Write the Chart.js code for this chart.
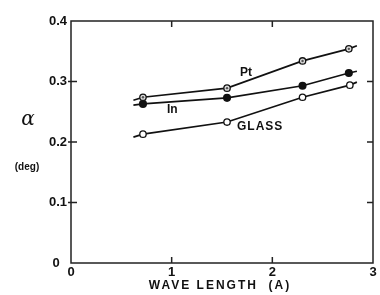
<!DOCTYPE html>
<html>
<head>
<meta charset="utf-8">
<script src="https://cdn.jsdelivr.net/npm/chart.js@4/dist/chart.umd.min.js"></script>
<style>
  html, body { margin: 0; padding: 0; background: #fff; }
  #wrap { width: 380px; height: 295px; }
</style>
</head>
<body>
<div id="wrap"><canvas id="chart"></canvas></div>
<script>
// wave length (A); first and last entries are the line ends (no marker)
const ptX    = [0.62, 0.715, 1.55, 2.30, 2.76, 2.84];
const ptY    = [0.269, 0.274, 0.289, 0.334, 0.354, 0.359];
const inX    = [0.62, 0.715, 1.55, 2.30, 2.76, 2.84];
const inY    = [0.261, 0.263, 0.273, 0.293, 0.314, 0.317];
const glassX = [0.62, 0.715, 1.55, 2.30, 2.77, 2.84];
const glassY = [0.208, 0.213, 0.233, 0.274, 0.294, 0.299];
const xTicks = [0, 1, 2, 3];
const yTicks = [0, 0.1, 0.2, 0.3, 0.4];

const toPoints = (xs, ys) => xs.map((x, i) => ({ x: x, y: ys[i] }));
const radii = n => Array.from({ length: n }, (_, i) => (i === 0 || i === n - 1) ? 0 : 3.2);

const fontBold = 'bold 12px "Liberation Sans", Arial, sans-serif';

// frame, inward ticks and text labels
const decor = {
    id: 'decor',
    afterDraw(chart) {
        const ctx = chart.ctx;
        const a = chart.chartArea;
        const xs = chart.scales.x, ys = chart.scales.y;
        ctx.save();
        ctx.strokeStyle = '#222';
        ctx.lineWidth = 1.5;
        ctx.strokeRect(a.left, a.top, a.right - a.left, a.bottom - a.top);
        ctx.beginPath();
        // x ticks bottom and top
        [1, 2].forEach(v => {
            const px = xs.getPixelForValue(v);
            ctx.moveTo(px, a.bottom); ctx.lineTo(px, a.bottom - 6);
            ctx.moveTo(px, a.top); ctx.lineTo(px, a.top + 6);
        });
        // y ticks left and right
        [0.1, 0.2, 0.3].forEach(v => {
            const py = ys.getPixelForValue(v);
            ctx.moveTo(a.left - 3, py); ctx.lineTo(a.left + 6, py);
            ctx.moveTo(a.right, py); ctx.lineTo(a.right - 6, py);
        });
        ctx.stroke();

        // centre dots of the Pt markers
        const meta = chart.getDatasetMeta(0);
        ctx.fillStyle = '#555';
        meta.data.forEach((p, i) => {
            if (i === 0 || i === meta.data.length - 1) return;
            ctx.beginPath();
            ctx.arc(p.x, p.y, 1.2, 0, Math.PI * 2);
            ctx.fill();
        });

        ctx.fillStyle = '#111';
        ctx.font = fontBold;
        ctx.textAlign = 'left';
        ctx.textBaseline = 'middle';
        ctx.fillText('Pt', 240, 73);
        ctx.fillText('In', 167, 110);
        ctx.letterSpacing = '1px';
        ctx.fillText('GLASS', 237, 127);
        ctx.letterSpacing = '2px';
        ctx.textAlign = 'center';
        ctx.fillText('WAVE LENGTH  (A)', 220, 286);
        ctx.letterSpacing = '0px';
        ctx.font = 'bold 10px "Liberation Sans", Arial, sans-serif';
        ctx.fillText('(deg)', 27, 167);
        ctx.font = 'italic 20px "DejaVu Serif", serif';
        ctx.fillText('\u03b1', 28, 120);
        ctx.restore();
    }
};

new Chart(document.getElementById('chart'), {
    type: 'line',
    data: {
        datasets: [
            {
                label: 'Pt',
                data: toPoints(ptX, ptY),
                borderColor: '#111',
                backgroundColor: '#ddd',
                pointBorderColor: '#111',
                pointBorderWidth: 1.3,
                pointRadius: radii(ptX.length),
                borderWidth: 1.7
            },
            {
                label: 'In',
                data: toPoints(inX, inY),
                borderColor: '#111',
                backgroundColor: '#111',
                pointBorderColor: '#111',
                pointRadius: radii(inX.length),
                borderWidth: 1.7
            },
            {
                label: 'GLASS',
                data: toPoints(glassX, glassY),
                borderColor: '#111',
                backgroundColor: '#fff',
                pointBorderColor: '#111',
                pointBorderWidth: 1.3,
                pointRadius: radii(glassX.length),
                borderWidth: 1.7
            }
        ]
    },
    options: {
        responsive: true,
        maintainAspectRatio: false,
        animation: false,
        layout: { padding: { left: 0, right: 7, top: 21, bottom: 0 } },
        plugins: { legend: { display: false }, tooltip: { enabled: false } },
        scales: {
            x: {
                type: 'linear',
                min: 0, max: 3,
                afterBuildTicks: s => { s.ticks = xTicks.map(v => ({ value: v })); },
                afterFit: s => { s.height = 32; },
                grid: { display: false, drawTicks: false },
                border: { display: false },
                ticks: {
                    color: '#111',
                    padding: 2,
                    font: { family: '"Liberation Sans", Arial, sans-serif', size: 13, weight: 'bold' },
                    maxRotation: 0,
                    callback: v => String(v)
                }
            },
            y: {
                min: 0, max: 0.4,
                afterBuildTicks: s => { s.ticks = yTicks.map(v => ({ value: v })); },
                afterFit: s => { s.width = 71; },
                grid: { display: false, drawTicks: false },
                border: { display: false },
                ticks: {
                    color: '#111',
                    padding: 4,
                    font: { family: '"Liberation Sans", Arial, sans-serif', size: 13, weight: 'bold' },
                    callback: v => v === 0 ? '0  ' : v.toFixed(1)
                }
            }
        }
    },
    plugins: [decor]
});
</script>
</body>
</html>
